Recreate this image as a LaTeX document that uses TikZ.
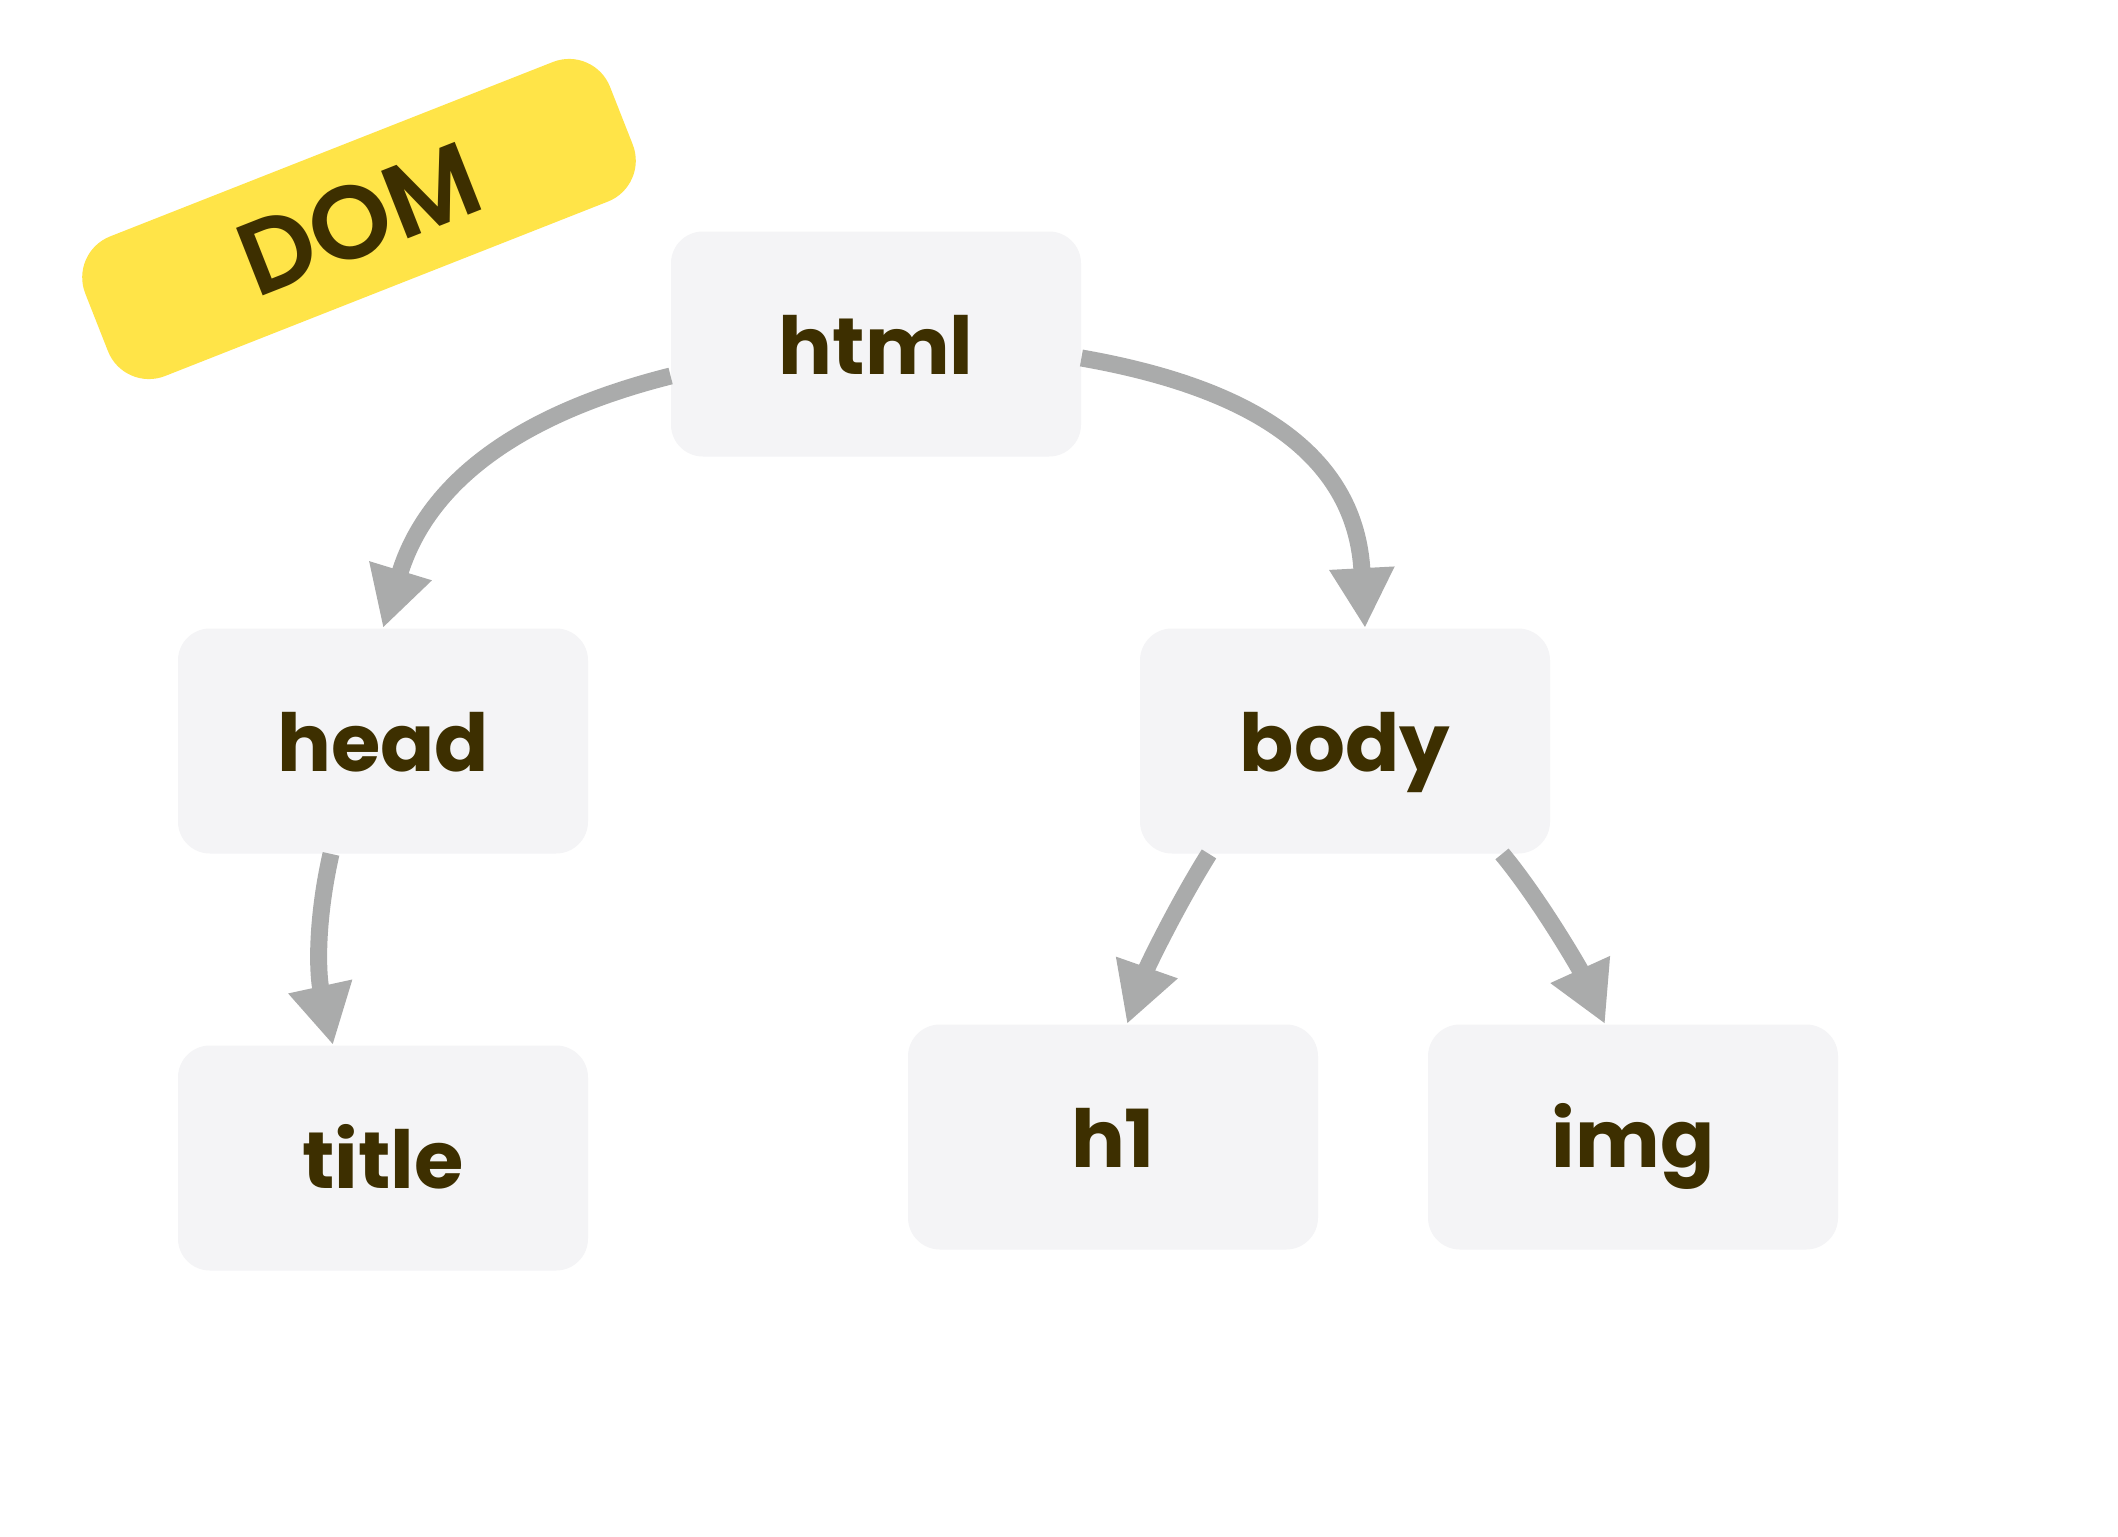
\documentclass[tikz,border=0pt]{standalone}
\usepackage{fontspec}
\setmainfont{Poppins}
\newfontfamily\pbold{Poppins}[UprightFont=* Bold]
\newfontfamily\ptag{Poppins}[UprightFont=* SemiBold]
\usetikzlibrary{arrows.meta,calc}
\definecolor{txt}{HTML}{3D2F00}
\definecolor{boxfill}{HTML}{F4F4F6}
\definecolor{edge}{HTML}{AAABAB}
\definecolor{tag}{HTML}{FFE448}
\tikzset{
  treebox/.style={fill=boxfill, rounded corners=16pt,
    minimum width=205pt, minimum height=112.5pt, inner sep=0pt,
    text=txt, font=\fontsize{40}{44}\selectfont\pbold,
    text height=30.4pt, text depth=0pt},
  tagbox/.style={fill=tag, rounded corners=22pt, minimum width=282pt, minimum height=75pt,
    inner sep=0pt, text=txt, font=\fontsize{52}{56}\selectfont\ptag,
    text height=36.5pt, text depth=0pt},
  link/.style={draw=edge, line width=8.5pt,
    -{Triangle[length=30pt,width=30.5pt]}}
}
\begin{document}
\begin{tikzpicture}[x=0.5pt,y=-0.5pt]
\fill[white] (0,0) rectangle (2118,1536);
\useasboundingbox (0,0) rectangle (2118,1536);

\node[treebox] (html)  at (876,344)   {html};
\node[treebox] (head)  at (383,741)   {head};
\node[treebox] (body)  at (1345,741)  {body};
\node[treebox] (title) at (383,1158)  {title};
\node[treebox] (h1)    at (1113,1137) {h1};
\node[treebox] (img)   at (1633,1137) {img};

\draw[link] ($(html.west)+(0,32)$) .. controls +(-155,39) and +(44,-144) .. (head.north);
\draw[link] ($(html.east)+(0,14)$) .. controls +(177,31) and +(-9,-170) .. ($(body.north)+(20,0)$);
\draw[link] ($(head.south)+(-52,0)$) .. controls +(-16,71) and +(-15,-69) .. ($(title.north)+(-50,0)$);
\draw[link] ($(body.south)+(-136,0)$) .. controls +(-32,51) and +(20,-57) .. ($(h1.north)+(14,0)$);
\draw[link] ($(body.south)+(157,0)$) .. controls +(38,46) and +(-25,-55) .. ($(img.north)+(-28,0)$);

\node[tagbox, rotate=21.5] (dom) at (359,219) {DOM};
\end{tikzpicture}
\end{document}
